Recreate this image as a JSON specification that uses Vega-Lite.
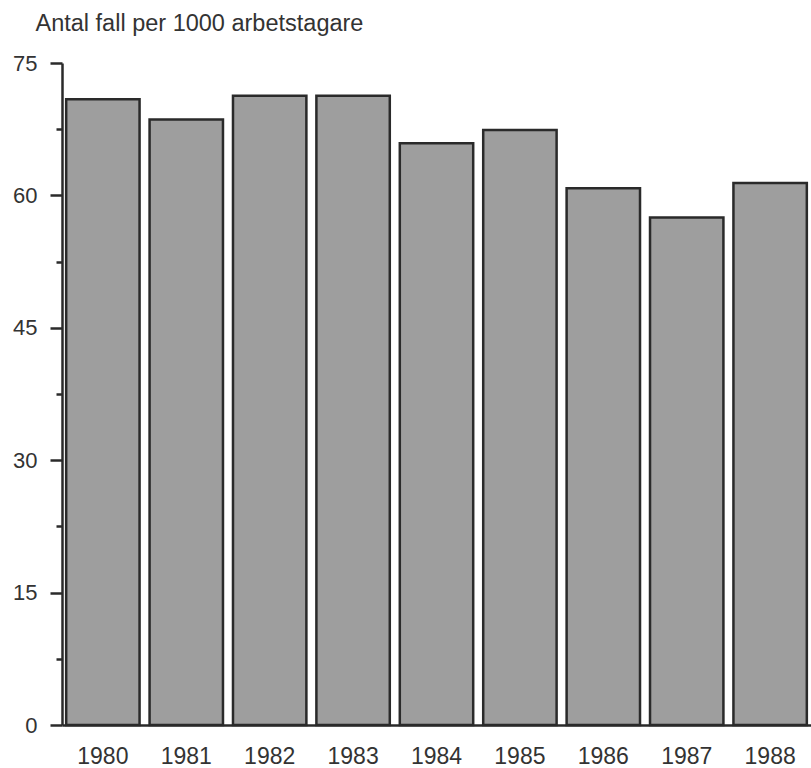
{
  "$schema": "https://vega.github.io/schema/vega-lite/v6.json",
  "width": 749,
  "height": 662,
  "autosize": {"type": "none"},
  "padding": {"left": 62, "top": 63, "right": 0, "bottom": 43},
  "background": "#ffffff",
  "config": {
    "view": {"stroke": null},
    "font": "Liberation Sans"
  },
  "data": {
    "values": [
      {"year": "1980", "value": 70.9},
      {"year": "1981", "value": 68.6},
      {"year": "1982", "value": 71.3},
      {"year": "1983", "value": 71.3},
      {"year": "1984", "value": 65.9},
      {"year": "1985", "value": 67.4},
      {"year": "1986", "value": 60.8},
      {"year": "1987", "value": 57.5},
      {"year": "1988", "value": 61.4}
    ]
  },
  "layer": [
    {
      "mark": {"type": "bar", "fill": "#9e9e9e", "stroke": "#2a2a2a", "strokeWidth": 2.5},
      "encoding": {
        "x": {"field": "year", "type": "ordinal",
              "scale": {"paddingInner": 0.12, "paddingOuter": 0.05},
              "axis": {"title": null, "labelAngle": 0, "ticks": false, "domainColor": "#2a2a2a",
                       "domainWidth": 2.5, "labelFontSize": 23, "labelColor": "#333333",
                       "labelPadding": 20, "labelFont": "Liberation Sans"}},
        "y": {"field": "value", "type": "quantitative",
              "scale": {"domain": [0, 75], "nice": false},
              "axis": {"orient": "left", "values": [0, 15, 30, 45, 60, 75], "grid": false,
                       "tickSize": 12, "tickWidth": 2.5, "tickColor": "#2a2a2a",
                       "domainColor": "#2a2a2a", "domainWidth": 2.5,
                       "labelFontSize": 22, "labelColor": "#333333", "labelPadding": 13,
                       "labelFont": "Liberation Sans",
                       "title": "Antal fall per 1000 arbetstagare",
                       "titleAngle": 0, "titleAlign": "left", "titleBaseline": "alphabetic",
                       "titleX": -27, "titleY": -33, "titleFontSize": 23.5,
                       "titleFontWeight": "normal", "titleColor": "#333333",
                       "titleFont": "Liberation Sans"}}
      }
    },
    {
      "mark": {"type": "bar", "opacity": 0},
      "encoding": {
        "x": {"field": "year", "type": "ordinal", "axis": null,
              "scale": {"paddingInner": 0.12, "paddingOuter": 0.05}},
        "y": {"field": "value", "type": "quantitative",
              "scale": {"domain": [0, 75], "nice": false},
              "axis": {"orient": "left", "values": [7.5, 22.5, 37.5, 52.5, 67.5],
                       "labels": false, "domain": false, "grid": false,
                       "tickSize": 6, "tickWidth": 2.5, "tickColor": "#2a2a2a", "title": null}}
      }
    }
  ],
  "resolve": {"axis": {"y": "independent", "x": "independent"}}
}
